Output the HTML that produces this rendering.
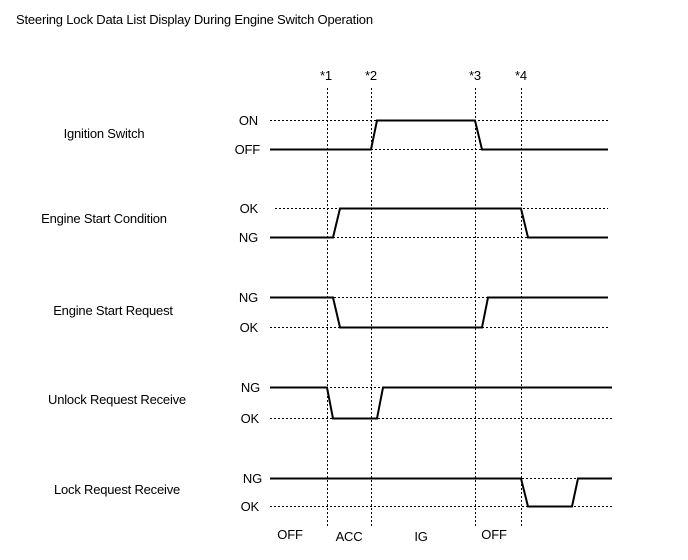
<!DOCTYPE html>
<html><head><meta charset="utf-8"><style>
html,body{margin:0;padding:0;background:#fff;}
svg{display:block;}
text{font-family:"Liberation Sans",Arial,sans-serif;font-size:13px;fill:#000;letter-spacing:-0.2px;}
</style></head><body>
<svg width="688" height="560" viewBox="0 0 688 560" xmlns="http://www.w3.org/2000/svg">
<text x="16" y="24">Steering Lock Data List Display  During Engine Switch Operation</text>
<g stroke="#000" stroke-width="1" stroke-dasharray="2,2" fill="none">
<line x1="327.5" y1="88" x2="327.5" y2="528"/>
<line x1="371.5" y1="88" x2="371.5" y2="528"/>
<line x1="475.5" y1="88" x2="475.5" y2="528"/>
<line x1="521.5" y1="88" x2="521.5" y2="528"/>
<line x1="270" y1="120.5" x2="608" y2="120.5"/>
<line x1="371" y1="149.5" x2="608" y2="149.5"/>
<line x1="275" y1="208.5" x2="608" y2="208.5"/>
<line x1="333" y1="237.5" x2="608" y2="237.5"/>
<line x1="270" y1="297.5" x2="608" y2="297.5"/>
<line x1="270" y1="327.5" x2="608" y2="327.5"/>
<line x1="270" y1="387.5" x2="612" y2="387.5"/>
<line x1="270" y1="418.5" x2="612" y2="418.5"/>
<line x1="270" y1="478.5" x2="612" y2="478.5"/>
<line x1="270" y1="506.5" x2="612" y2="506.5"/>
</g>
<g stroke="#000" stroke-width="2" fill="none">
<polyline points="270,149.5 371,149.5 377,120.5 475,120.5 482,149.5 608,149.5"/>
<polyline points="270,237.5 333,237.5 340,208.5 521,208.5 528,237.5 608,237.5"/>
<polyline points="270,297.5 333,297.5 340,327.5 482,327.5 488,297.5 608,297.5"/>
<polyline points="270,387.5 327,387.5 333,418.5 377,418.5 383,387.5 612,387.5"/>
<polyline points="270,478.5 521,478.5 528,506.5 572,506.5 578,478.5 612,478.5"/>
</g>
<text x="320" y="80">*1</text>
<text x="365" y="80">*2</text>
<text x="469" y="80">*3</text>
<text x="515" y="80">*4</text>
<g text-anchor="end">
<text x="258" y="125">ON</text>
<text x="260" y="154">OFF</text>
<text x="258" y="213">OK</text>
<text x="258" y="242">NG</text>
<text x="258" y="302">NG</text>
<text x="258" y="332">OK</text>
<text x="260" y="392">NG</text>
<text x="259" y="423">OK</text>
<text x="262" y="483">NG</text>
<text x="259" y="511">OK</text>
</g>
<g text-anchor="middle">
<text x="104" y="138">Ignition Switch</text>
<text x="104" y="223">Engine Start Condition</text>
<text x="113" y="315">Engine Start Request</text>
<text x="117" y="404">Unlock Request Receive</text>
<text x="117" y="494">Lock Request Receive</text>
<text x="290" y="539">OFF</text>
<text x="349" y="541">ACC</text>
<text x="421" y="541">IG</text>
<text x="494" y="539">OFF</text>
</g>
</svg>
</body></html>
